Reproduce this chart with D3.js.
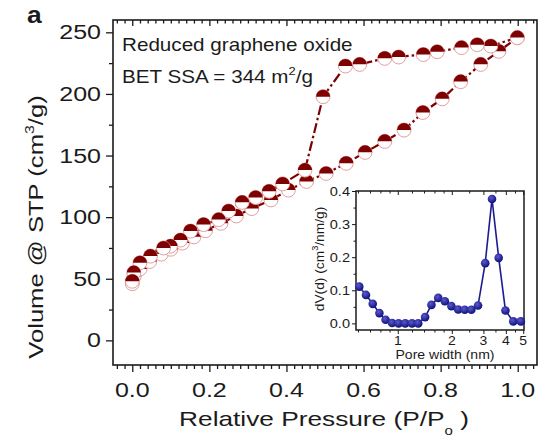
<!DOCTYPE html>
<html><head><meta charset="utf-8">
<script src="https://cdn.jsdelivr.net/npm/d3@7/dist/d3.min.js"></script>
<style>
html,body{margin:0;padding:0;background:#fff;}
svg{display:block;font-family:"Liberation Sans",Arial,sans-serif;}
</style></head>
<body>
<svg id="c" width="540" height="440"></svg>
<script>
// ---------- data ----------
const adsP = [0.0, 0.005, 0.02, 0.045, 0.075, 0.10, 0.13, 0.16, 0.19, 0.23, 0.27, 0.31, 0.36, 0.405, 0.452, 0.503, 0.555, 0.604, 0.655, 0.705, 0.754, 0.804, 0.852, 0.904, 0.951, 0.999];
const adsV = [46, 52, 58, 64, 70, 74, 79, 84, 89, 95, 101, 107, 114, 122, 129, 135.5, 143.7, 152.6, 161.5, 170.7, 185, 196, 210, 224, 234.6, 245.7];
const desP = [0.999, 0.93, 0.895, 0.854, 0.791, 0.755, 0.691, 0.655, 0.59, 0.553, 0.495, 0.448, 0.39, 0.355, 0.32, 0.285, 0.25, 0.224, 0.185, 0.151, 0.125, 0.099, 0.081, 0.047, 0.02, 0.004, 0.0];
const desV = [245.7, 238.9, 240, 237.6, 234.3, 232, 230, 228.9, 224, 222.7, 197.8, 138.2, 127, 121, 116, 112, 105, 98, 94, 88.7, 81.4, 76.5, 75, 68.4, 63, 55, 48];
const xTicks = [0, 0.2, 0.4, 0.6, 0.8, 1.0];
const yTicks = [0, 50, 100, 150, 200, 250];

const poreW = [0.61, 0.665, 0.725, 0.79, 0.855, 0.93, 1.01, 1.10, 1.20, 1.30, 1.42, 1.54, 1.68, 1.83, 1.99, 2.17, 2.36, 2.57, 2.80, 3.07, 3.35, 3.65, 3.98, 4.40, 4.85];
const poreDV = [0.111, 0.086, 0.059, 0.031, 0.011, 0.001, 0, 0, 0, 0, 0.019, 0.056, 0.077, 0.067, 0.052, 0.042, 0.041, 0.041, 0.054, 0.182, 0.376, 0.198, 0.039, 0.006, 0.006];
const insetXTicks = [1, 2, 3, 4, 5];
const insetYTicks = [0, 0.1, 0.2, 0.3, 0.4];

// ---------- setup ----------
const svg = d3.select("#c");
const ink = "#1b1b1b";
const red = "#7e0000";
const blue = "#1c1c8e";

function stext(parent, x, y, opts) {
  const g = parent.append("g")
    .attr("transform", `translate(${x},${y}) rotate(${opts.rotate||0}) scale(${opts.sx||1},1)`);
  const t = g.append("text")
    .attr("x", 0).attr("y", 0)
    .attr("text-anchor", opts.anchor || "start")
    .attr("font-size", opts.size)
    .attr("font-weight", opts.weight || "normal")
    .attr("fill", ink);
  (opts.parts || [{t: opts.text}]).forEach(p => {
    const ts = t.append("tspan").text(p.t);
    if (p.size) ts.attr("font-size", p.size);
    if (p.dy) ts.attr("dy", p.dy);
  });
  return t;
}

// ---------- main scales ----------
const x = d3.scaleLinear().domain([-0.05, 1.05]).range([113, 537]);
const y = d3.scaleLinear().domain([-20, 260]).range([365, 20]);

const axes = svg.append("g");
const minorX = d3.range(-0.04, 1.05, 0.02).filter(v => Math.abs(Math.round(v*5) - v*5) > 1e-6);
const minorY = d3.range(0, 260, 25).filter(v => v % 50 !== 0);

axes.append("g").attr("transform", `translate(0,365)`)
  .call(d3.axisBottom(x).tickValues(xTicks).tickSize(7).tickFormat(""))
  .call(g => g.select(".domain").remove());
axes.append("g").attr("transform", `translate(0,365)`)
  .call(d3.axisBottom(x).tickValues(minorX).tickSize(4).tickFormat(""))
  .call(g => g.select(".domain").remove());
axes.append("g").attr("transform", `translate(0,20)`)
  .call(d3.axisBottom(x).tickValues(xTicks).tickSize(6).tickFormat(""))
  .call(g => g.select(".domain").remove());
axes.append("g").attr("transform", `translate(0,20)`)
  .call(d3.axisBottom(x).tickValues(minorX).tickSize(3.5).tickFormat(""))
  .call(g => g.select(".domain").remove());
axes.append("g").attr("transform", `translate(113,0)`)
  .call(d3.axisLeft(y).tickValues(yTicks).tickSize(7).tickFormat(""))
  .call(g => g.select(".domain").remove());
axes.append("g").attr("transform", `translate(113,0)`)
  .call(d3.axisLeft(y).tickValues(minorY).tickSize(4).tickFormat(""))
  .call(g => g.select(".domain").remove());
axes.selectAll("line").attr("stroke", ink).attr("stroke-width", 1.3);

svg.append("rect").attr("x", 113).attr("y", 20).attr("width", 424).attr("height", 345)
  .attr("fill", "none").attr("stroke", ink).attr("stroke-width", 1.6);

xTicks.forEach(v => stext(svg, x(v), 397, {text: d3.format(".1f")(v), size: 20, anchor: "middle", sx: 1.25}));
yTicks.forEach(v => stext(svg, 101, y(v) + 7, {text: String(v), size: 20, anchor: "end", sx: 1.25}));

stext(svg, 324, 426, {size: 21, anchor: "middle", sx: 1.25,
  parts: [{t: "Relative Pressure (P/P"}, {t: "o", size: 12, dy: 9}, {t: " )", dy: -9}]});
stext(svg, 43, 227, {size: 21, anchor: "middle", sx: 1.22, rotate: -90,
  parts: [{t: "Volume @ STP (cm"}, {t: "3", size: 13, dy: -9}, {t: "/g)", dy: 9}]});

stext(svg, 27, 23, {text: "a", size: 24, weight: "bold", sx: 1.1});

stext(svg, 122, 51, {text: "Reduced graphene oxide", size: 17.5, sx: 1.18});
stext(svg, 122, 83, {size: 17.5, sx: 1.18,
  parts: [{t: "BET SSA = 344 m"}, {t: "2", size: 11, dy: -8}, {t: "/g", dy: 8}]});

// ---------- main series ----------
const ads = adsP.map((p, i) => ({p, v: adsV[i]}));
const des = desP.map((p, i) => ({p, v: desV[i]}));
const line = d3.line().x(d => x(d.p)).y(d => y(d.v));

[ads, des].forEach(data => {
  svg.append("path").datum(data).attr("d", line)
    .attr("fill", "none").attr("stroke", red).attr("stroke-width", 2.2)
    .attr("stroke-dasharray", "10,3,2.5,3");
});

const r = 7;
[ads, des].forEach(data => {
  const m = svg.append("g").selectAll("g").data(data).join("g")
    .attr("transform", d => `translate(${x(d.p)},${y(d.v)})`);
  m.append("circle").attr("r", r).attr("fill", "#fff").attr("stroke", "#e2a0a0").attr("stroke-width", 1);
  m.append("path").attr("d", `M${-r},0 A${r},${r} 0 0 1 ${r},0 Z`).attr("fill", red);
});

// ---------- inset ----------
const xi = d3.scaleLog().domain([0.585, 5.05]).range([356, 524]);
const yi = d3.scaleLinear().domain([-0.02, 0.4]).range([330, 191]);

svg.append("rect").attr("x", 356).attr("y", 191).attr("width", 168).attr("height", 139)
  .attr("fill", "#fff");

const ia = svg.append("g");
const iMinorX = [0.6, 0.7, 0.8, 0.9, 1.2, 1.4, 1.6, 1.8, 2.5, 3.5, 4.5];
const iMinorY = [0.05, 0.15, 0.25, 0.35];
ia.append("g").attr("transform", "translate(0,330)")
  .call(d3.axisBottom(xi).tickValues(insetXTicks).tickSize(4).tickFormat(""))
  .call(g => g.select(".domain").remove());
ia.append("g").attr("transform", "translate(0,330)")
  .call(d3.axisBottom(xi).tickValues(iMinorX).tickSize(2.5).tickFormat(""))
  .call(g => g.select(".domain").remove());
ia.append("g").attr("transform", "translate(0,191)")
  .call(d3.axisBottom(xi).tickValues(insetXTicks).tickSize(4).tickFormat(""))
  .call(g => g.select(".domain").remove());
ia.append("g").attr("transform", "translate(0,191)")
  .call(d3.axisBottom(xi).tickValues(iMinorX).tickSize(2.5).tickFormat(""))
  .call(g => g.select(".domain").remove());
ia.append("g").attr("transform", "translate(356,0)")
  .call(d3.axisLeft(yi).tickValues(insetYTicks).tickSize(4).tickFormat(""))
  .call(g => g.select(".domain").remove());
ia.append("g").attr("transform", "translate(356,0)")
  .call(d3.axisLeft(yi).tickValues(iMinorY).tickSize(2.5).tickFormat(""))
  .call(g => g.select(".domain").remove());
ia.selectAll("line").attr("stroke", ink).attr("stroke-width", 1);

svg.append("rect").attr("x", 356).attr("y", 191).attr("width", 168).attr("height", 139)
  .attr("fill", "none").attr("stroke", ink).attr("stroke-width", 1.5);

insetXTicks.forEach(v => stext(svg, xi(v), 345, {text: String(v), size: 12.5, anchor: "middle", sx: 1.12}));
insetYTicks.forEach(v => stext(svg, 350, yi(v) + 5, {text: d3.format(".1f")(v), size: 13, anchor: "end", sx: 1.12}));

stext(svg, 445, 359, {text: "Pore width (nm)", size: 13, anchor: "middle", sx: 1.08});
stext(svg, 324, 259, {size: 13.5, anchor: "middle", sx: 1.02, rotate: -90,
  parts: [{t: "dV(d) (cm"}, {t: "3", size: 9, dy: -6}, {t: "/nm/g)", dy: 6}]});

const pore = poreW.map((w, i) => ({w, v: poreDV[i]}));
svg.append("path").datum(pore)
  .attr("d", d3.line().x(d => xi(d.w)).y(d => yi(d.v)))
  .attr("fill", "none").attr("stroke", blue).attr("stroke-width", 1.6);

const defs = svg.append("defs");
const grad = defs.append("radialGradient").attr("id", "gb").attr("cx", "40%").attr("cy", "35%").attr("r", "65%");
grad.append("stop").attr("offset", "0%").attr("stop-color", "#5a5ad0");
grad.append("stop").attr("offset", "100%").attr("stop-color", "#10107a");

svg.append("g").selectAll("circle").data(pore).join("circle")
  .attr("cx", d => xi(d.w)).attr("cy", d => yi(d.v)).attr("r", 4.3)
  .attr("fill", "url(#gb)");
</script>
</body></html>
